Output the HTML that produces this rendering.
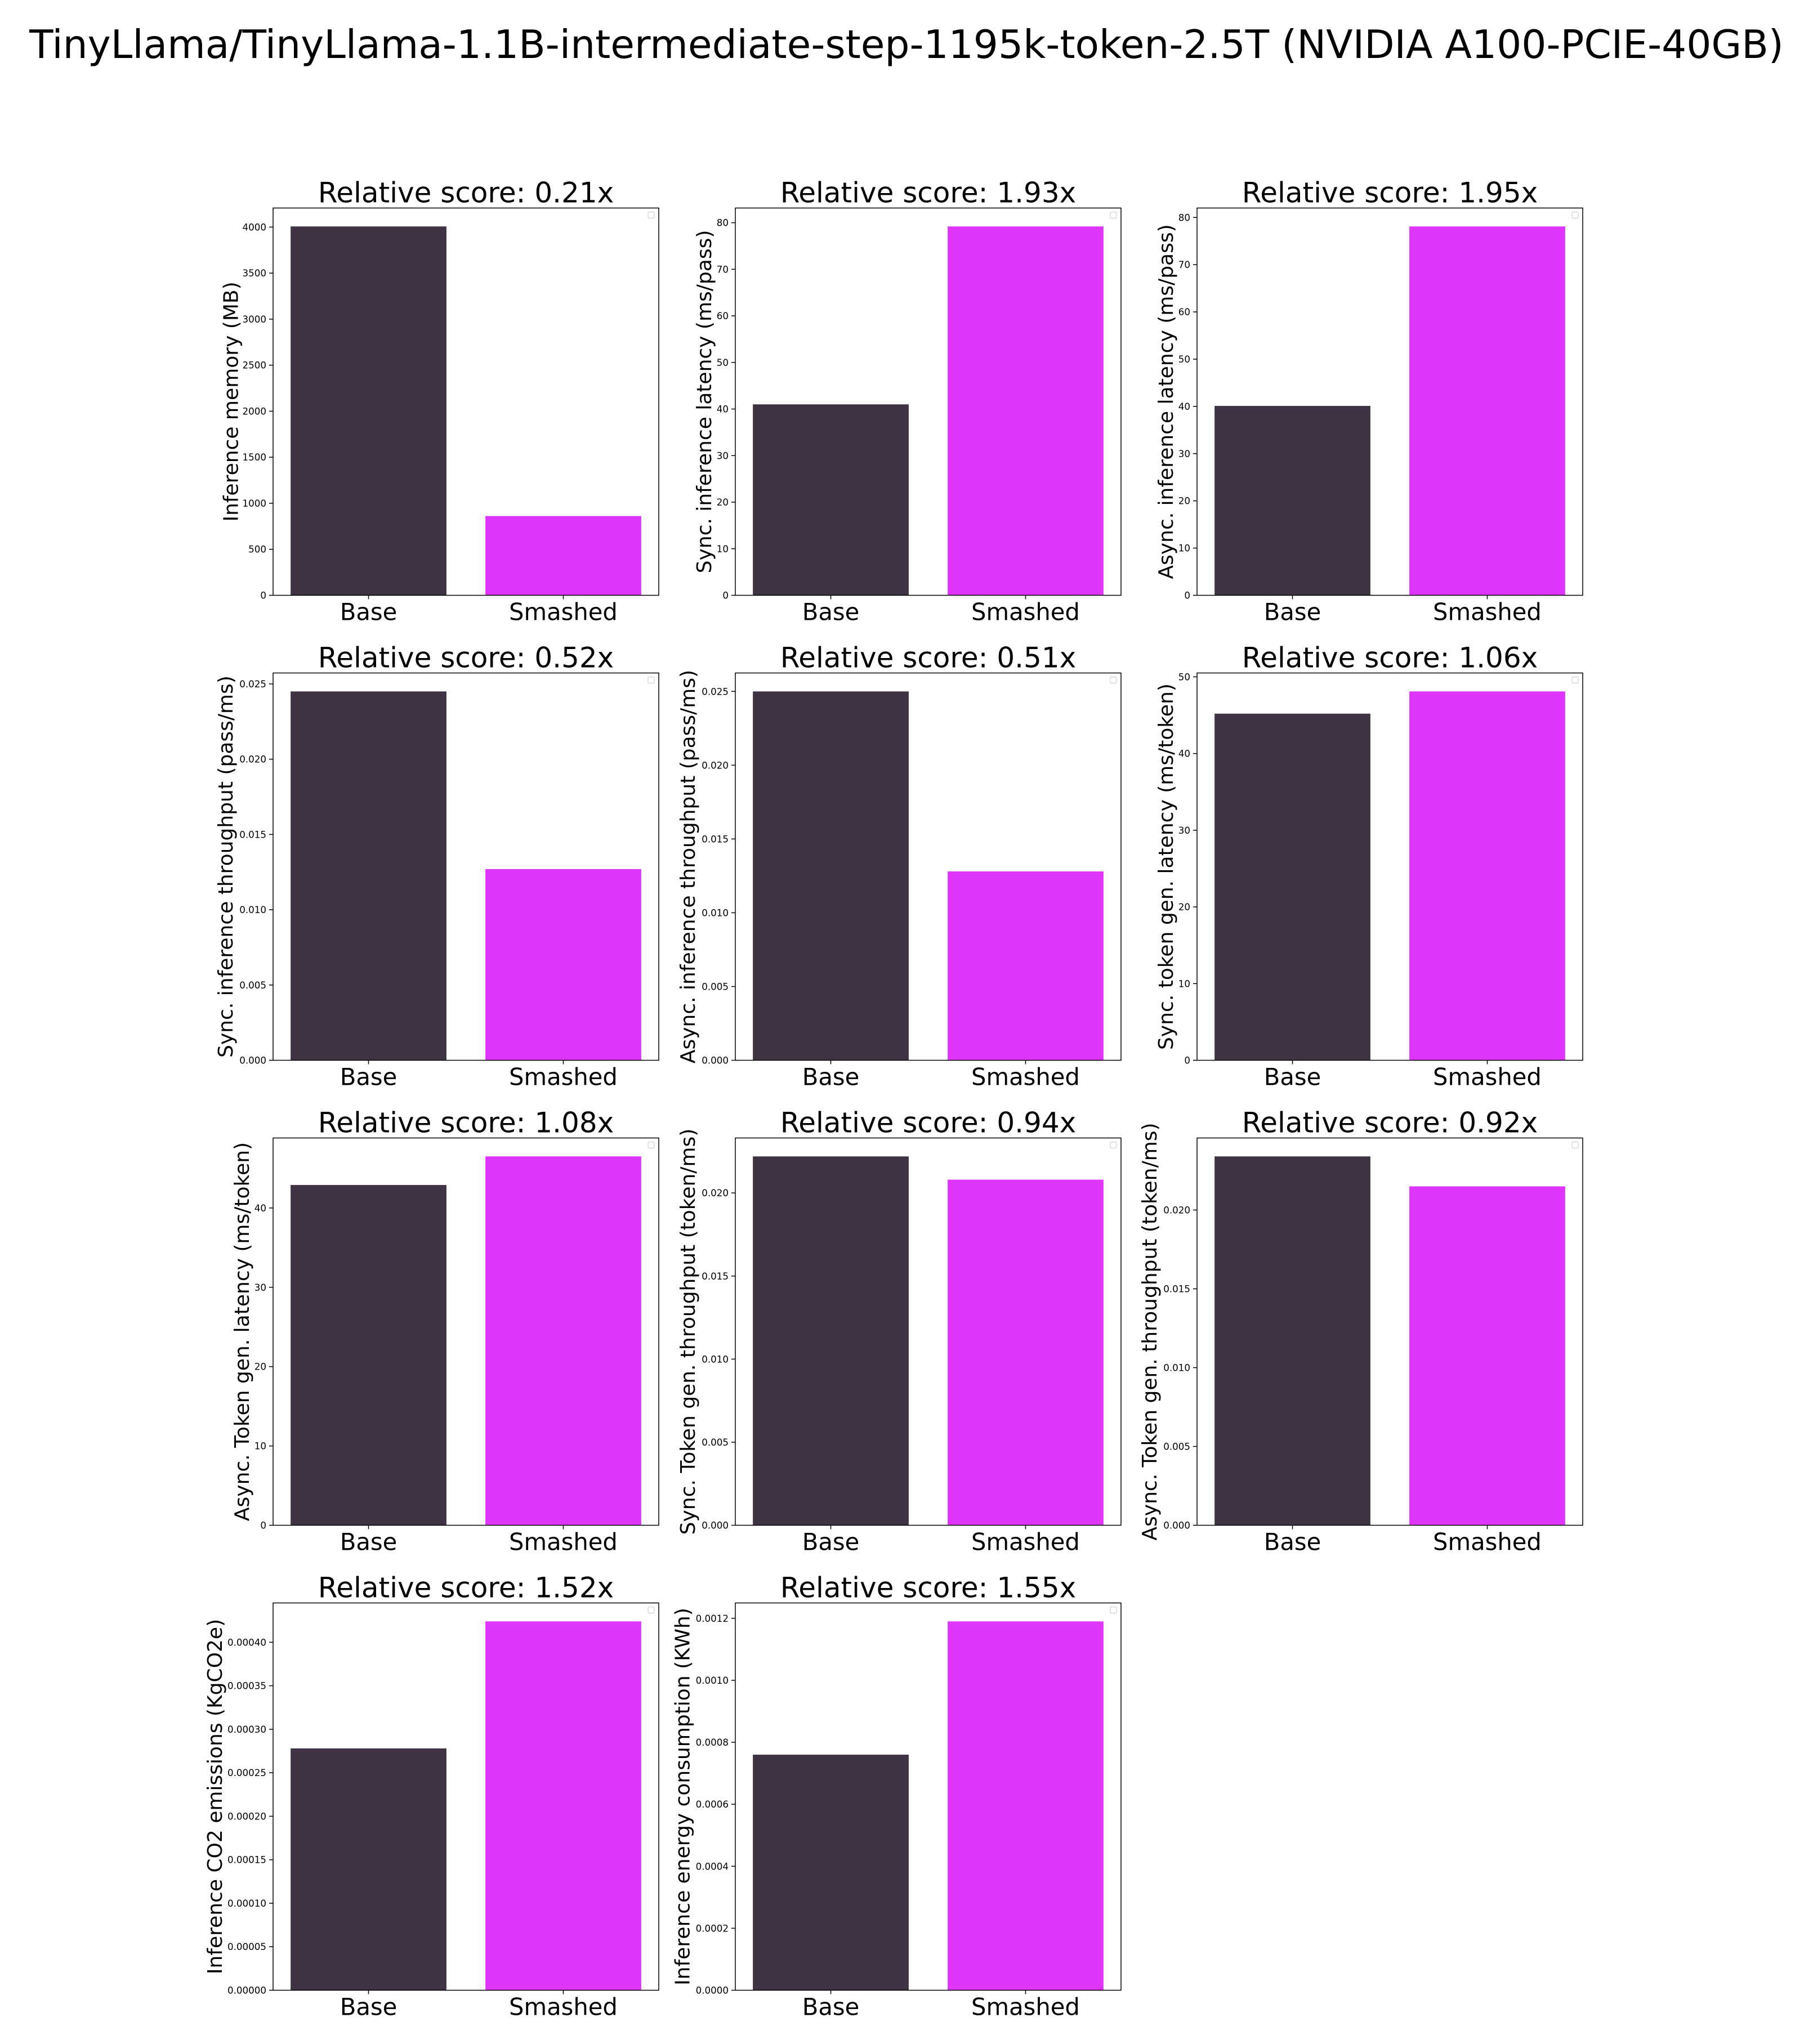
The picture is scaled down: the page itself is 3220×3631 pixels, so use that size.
<!DOCTYPE html>
<html><head><meta charset="utf-8"><style>
html,body{margin:0;padding:0;background:#fff;}
svg{display:block;font-family:"DejaVu Sans","Liberation Sans",sans-serif;}
</style></head><body>
<svg id="fig" width="3220" height="3631" viewBox="0 0 3220 3631" xmlns="http://www.w3.org/2000/svg">
<rect width="3220" height="3631" fill="#fff"/>
<text x="1610" y="103" text-anchor="middle" font-size="69.4" fill="#000">TinyLlama/TinyLlama-1.1B-intermediate-step-1195k-token-2.5T (NVIDIA A100-PCIE-40GB)</text>
</svg>
<script>
const categories = ["Base", "Smashed"];
const scores = ["0.21x","1.93x","1.95x","0.52x","0.51x","1.06x","1.08x","0.94x","0.92x","1.52x","1.55x"];
const yTitles = ["Inference memory (MB)","Sync. inference latency (ms/pass)","Async. inference latency (ms/pass)","Sync. inference throughput (pass/ms)","Async. inference throughput (pass/ms)","Sync. token gen. latency (ms/token)","Async. Token gen. latency (ms/token)","Sync. Token gen. throughput (token/ms)","Async. Token gen. throughput (token/ms)","Inference CO2 emissions (KgCO2e)","Inference energy consumption (KWh)"];
const baseValues = [4007, 41.0, 40.1, 0.0245, 0.0250, 45.2, 42.9, 0.0222, 0.0234, 0.000278, 0.00076];
const smashedValues = [861, 79.2, 78.1, 0.0127, 0.0128, 48.1, 46.5, 0.0208, 0.0215, 0.000424, 0.00119];
const tickSteps = [500, 10, 10, 0.005, 0.005, 10, 10, 0.005, 0.005, 0.00005, 0.0002];
const tickDecimals = [0, 0, 0, 3, 3, 0, 0, 3, 3, 5, 4];

const NS = "http://www.w3.org/2000/svg";
const svg = document.getElementById("fig");
const colLeft = [485, 1306, 2126];
const rowTop = [369.5, 1195.5, 2021.5, 2847.5];
const AW = 685, AH = 688;
const colors = ["#403345", "#e035fd"];

function mk(tag, attrs, parent) {
  const e = document.createElementNS(NS, tag);
  for (const k in attrs) e.setAttribute(k, attrs[k]);
  parent.appendChild(e);
  return e;
}

for (let i = 0; i < baseValues.length; i++) {
  const L = colLeft[i % 3], T = rowTop[Math.floor(i / 3)], B = T + AH, R = L + AW;
  const vals = [baseValues[i], smashedValues[i]];
  const ymax = Math.max(vals[0], vals[1]) * 1.05;
  const xs = v => L + (v + 0.49) / 1.98 * AW;
  const ys = v => B - v / ymax * AH;
  const g = mk("g", {}, svg);
  
  

  const title = mk("text", {x: L + AW / 2, y: T - 10, "text-anchor": "middle", "font-size": 50}, g);
  
  
  title.textContent = "Relative score: " + scores[i];

  for (let j = 0; j < 2; j++) {
    const r = mk("rect", {x: xs(j - 0.4), y: ys(vals[j]), width: xs(j + 0.4) - xs(j - 0.4), height: B - ys(vals[j]), fill: colors[j]}, g);
    
    
    mk("line", {x1: xs(j), x2: xs(j), y1: B, y2: B + 7, stroke: "#000", "stroke-width": 1.5}, g);
    const xl = mk("text", {x: xs(j), y: B + 44, "text-anchor": "middle", "font-size": 41.7}, g);
    
    
    xl.textContent = categories[j];
  }

  let maxW = 0;
  const step = tickSteps[i];
  for (let k = 0; k * step <= ymax + 1e-12; k++) {
    const v = k * step, y = ys(v);
    mk("line", {x1: L - 7, x2: L, y1: y, y2: y, stroke: "#000", "stroke-width": 1.5}, g);
    const s = v.toFixed(tickDecimals[i]);
    maxW = Math.max(maxW, s.length * 9.6);
    const t = mk("text", {x: L - 12, y: y + 6, "text-anchor": "end", "font-size": 16.7}, g);
    
    
    t.textContent = s;
  }
  const lx = L - 12 - maxW - 12;
  const yl = mk("text", {x: lx, y: T + AH / 2, "text-anchor": "middle", "font-size": 36, transform: "rotate(-90 " + lx + " " + (T + AH / 2) + ")"}, g);
  
  
  yl.textContent = yTitles[i];

  const frame = mk("rect", {x: L, y: T, width: AW, height: AH, fill: "none", stroke: "#000", "stroke-width": 1.5}, g);
  
  
  const lg = mk("rect", {x: R - 19, y: T + 7, width: 11, height: 11, rx: 2, fill: "#fff", stroke: "#d0d0d0", "stroke-width": 1.2}, g);
  
  
}
</script>
</body></html>
